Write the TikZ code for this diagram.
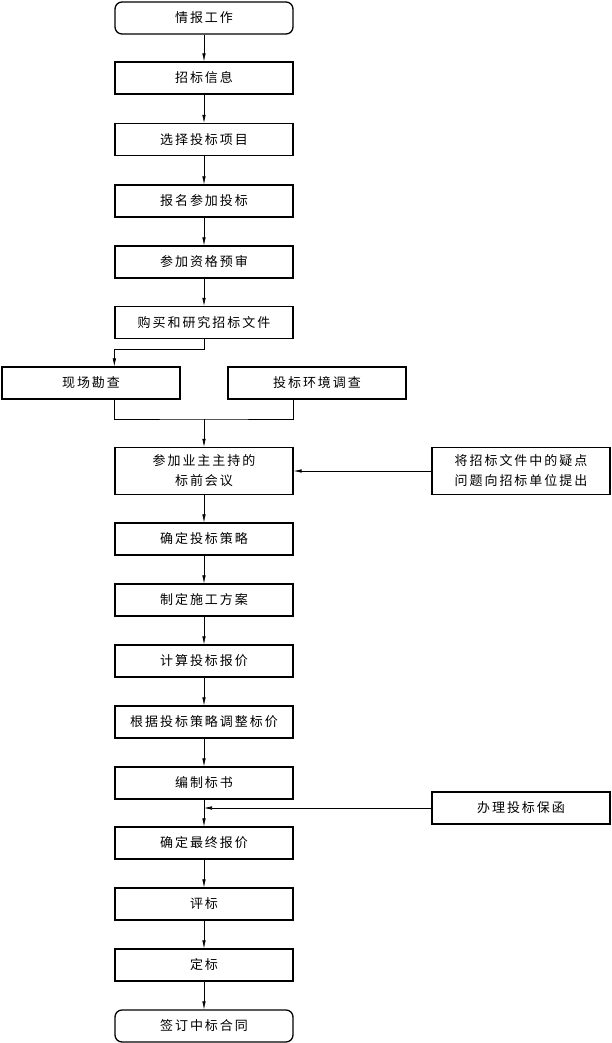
\documentclass[tikz,border=0pt]{standalone}
\usepackage{fontspec}
\newfontfamily\cjk[LetterSpace=15]{Noto Sans CJK SC}
\usetikzlibrary{arrows.meta}

\begin{document}
\begin{tikzpicture}[x=1pt,y=-1pt,
  box/.style={draw,line width=1.3pt,minimum width=178pt,minimum height=32pt,inner sep=0pt,
    align=center,font=\cjk\fontsize{13}{20}\selectfont},
  endbox/.style={box,rounded corners=7pt},
  tallbox/.style={box,minimum height=47pt},
  wire/.style={line width=0.6pt},
  link/.style={wire,-{Latex[length=8pt,width=3.5pt]}}]
\useasboundingbox (0,0) rectangle (611,1043);
% main column
\node[endbox] (qb) at (204,18) {情报工作};
\node[box] (zx) at (204,78) {招标信息};
\node[box] (xz) at (204,139.5) {选择投标项目};
\node[box] (bm) at (204,201) {报名参加投标};
\node[box] (zs) at (204,262) {参加资格预审};
\node[box] (gm) at (204,322.5) {购买和研究招标文件};
\node[box] (xc) at (91,383) {现场勘查};
\node[box] (hj) at (317,383) {投标环境调查};
\node[tallbox] (cy) at (204,471) {参加业主主持的\\标前会议};
\node[tallbox] (yd) at (521,471) {将招标文件中的疑点\\问题向招标单位提出};
\node[box] (cl) at (204,539) {确定投标策略};
\node[box] (fa) at (204,600) {制定施工方案};
\node[box] (js) at (204,661) {计算投标报价};
\node[box] (tz) at (204,722) {根据投标策略调整标价};
\node[box] (bz) at (204,783) {编制标书};
\node[box] (bh) at (521,808) {办理投标保函};
\node[box] (zz) at (204,843) {确定最终报价};
\node[box] (pb) at (204,904) {评标};
\node[box] (db) at (204,965) {定标};
\node[endbox] (ht) at (204,1026) {签订中标合同};
% connectors
\draw[link] (qb) -- (zx);
\draw[link] (zx) -- (xz);
\draw[link] (xz) -- (bm);
\draw[link] (bm) -- (zs);
\draw[link] (zs) -- (gm);
\draw[link] (gm.south) -- ++(0,10) -| (xc.north -| gm.west);
\coordinate (hz) at (204,419);
\draw[wire] (xc.south -| cy.west) |- (hz) -| (hj.south -| cy.east);
\draw[link] (hz) -- (cy);
\draw[link] (yd) -- (cy);
\draw[link] (cy) -- (cl);
\draw[link] (cl) -- (fa);
\draw[link] (fa) -- (js);
\draw[link] (js) -- (tz);
\draw[link] (tz) -- (bz);
\draw[link] (bz) -- (zz);
\draw[link] (bh) -- (bh -| bz.south);
\draw[link] (zz) -- (pb);
\draw[link] (pb) -- (db);
\draw[link] (db) -- (ht);
\end{tikzpicture}
\end{document}
